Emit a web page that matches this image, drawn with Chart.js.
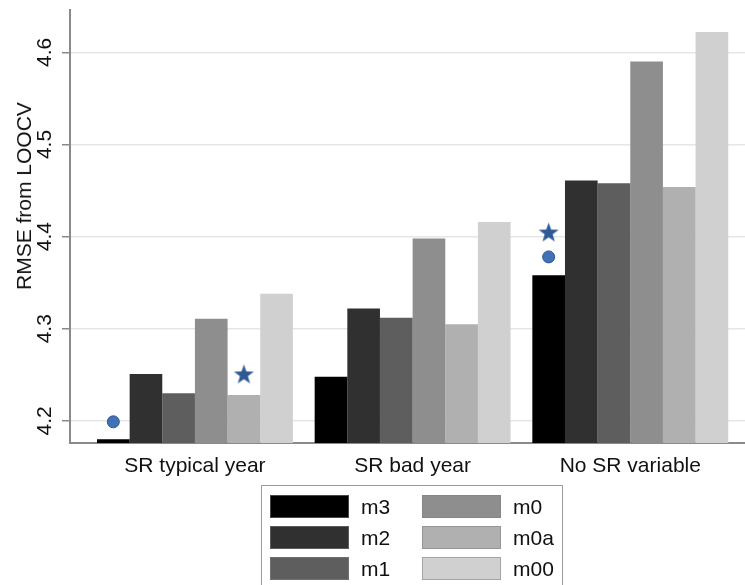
<!DOCTYPE html>
<html>
<head>
<meta charset="utf-8">
<script src="https://cdn.jsdelivr.net/npm/chart.js@4"></script>
<style>
  html, body { margin: 0; padding: 0; background: #ffffff; }
  #wrap { position: relative; width: 745px; height: 585px; overflow: hidden; font-family: "Liberation Sans", Arial, sans-serif; }
  #c { position: absolute; left: 0; top: 0; }
  #ytitle { position: absolute; left: 24px; top: 196px; transform: translate(-50%, -50%) rotate(-90deg); white-space: nowrap; font-size: 21px; color: #111; }
  #legend { position: absolute; left: 261px; top: 485px; width: 302px; height: 120px; border: 1px solid #9a9a9a; box-sizing: border-box; }
  .sw { position: absolute; width: 79px; height: 23px; box-sizing: border-box; border: 1px solid rgba(130,130,130,0.55); }
  .lt { position: absolute; font-size: 21px; line-height: 23px; color: #111; }
</style>
</head>
<body>
<div id="wrap">
  <canvas id="c" width="745" height="585"></canvas>
  <div id="ytitle">RMSE from LOOCV</div>
  <div id="legend"></div>
</div>
<script>
// ---- data ----
const categories = ["SR typical year", "SR bad year", "No SR variable"];
const seriesNames = ["m3", "m2", "m1", "m0", "m0a", "m00"];
const seriesColors = ["#000000", "#303030", "#5e5e5e", "#8e8e8e", "#b0b0b0", "#d0d0d0"];
const m3  = [4.180, 4.248, 4.358];
const m2  = [4.251, 4.322, 4.461];
const m1  = [4.230, 4.312, 4.458];
const m0  = [4.311, 4.398, 4.590];
const m0a = [4.228, 4.305, 4.454];
const m00 = [4.338, 4.416, 4.622];
const circleValues = [4.199, null, 4.378];
const circleSeries = ["m3", null, "m3"];
const starValues = [4.251, null, 4.405];
const starSeries = ["m0a", null, "m3"];
const yTickValues = [4.2, 4.3, 4.4, 4.5, 4.6];
const yTickLabels = ["4.2", "4.3", "4.4", "4.5", "4.6"];
const yTitle = "RMSE from LOOCV";

const seriesValues = [m3, m2, m1, m0, m0a, m00];
const CAT_PCT = 0.9;

// marker x: centre of the bar of the named series within the category
function barCenter(catIdx, name) {
  const n = seriesNames.length;
  const s = seriesNames.indexOf(name);
  return catIdx - CAT_PCT / 2 + (s + 0.5) * CAT_PCT / n;
}
function markerData(values, series) {
  const out = [];
  values.forEach((v, i) => { if (v !== null) out.push({ x: barCenter(i, series[i]), y: v }); });
  return out;
}

// filled five-point star as point style
function makeStar(R, color) {
  const size = Math.ceil(2 * R + 2);
  const cv = document.createElement("canvas");
  cv.width = size; cv.height = size;
  const ctx = cv.getContext("2d");
  const cx = size / 2, cy = size / 2 + 0.095 * R;
  const r = R * 0.4;
  ctx.beginPath();
  for (let k = 0; k < 10; k++) {
    const rad = (k % 2 === 0) ? R : r;
    const a = -Math.PI / 2 + k * Math.PI / 5;
    const px = cx + rad * Math.cos(a), py = cy + rad * Math.sin(a);
    if (k === 0) ctx.moveTo(px, py); else ctx.lineTo(px, py);
  }
  ctx.closePath();
  ctx.fillStyle = color;
  ctx.fill();
  return cv;
}

const datasets = [];
datasets.push({
  type: "scatter", label: "circle", data: markerData(circleValues, circleSeries),
  pointStyle: "circle", pointRadius: 6, backgroundColor: "#4172b6", borderColor: "#2c5592", borderWidth: 1, order: 0
});
datasets.push({
  type: "scatter", label: "star", data: markerData(starValues, starSeries),
  pointStyle: makeStar(10.5, "#2f5a94"), pointRadius: 10, order: 0
});
seriesNames.forEach((name, s) => {
  datasets.push({
    type: "bar", label: name,
    data: seriesValues[s].map((v, i) => ({ x: i, y: v })),
    backgroundColor: seriesColors[s], borderWidth: 0,
    categoryPercentage: CAT_PCT, barPercentage: 1.0, order: 1
  });
});

const FONT = { family: "'Liberation Sans', Arial, sans-serif", size: 21 };

new Chart(document.getElementById("c"), {
  type: "bar",
  data: { datasets },
  options: {
    responsive: false, animation: false, events: [],
    layout: { autoPadding: false, padding: { top: 10, right: 0, left: 0, bottom: 102 } },
    plugins: { legend: { display: false }, tooltip: { enabled: false }, title: { display: false } },
    scales: {
      x: {
        type: "linear", min: -0.574, max: 2.527, offset: false,
        grid: { display: false, offset: false },
        border: { display: true, color: "#8a8a8a", width: 2 },
        ticks: { color: "#111", font: FONT, padding: 3, maxRotation: 0, minRotation: 0, autoSkip: false,
                 callback: (v) => categories[v] },
        afterBuildTicks: (sc) => { sc.ticks = categories.map((_, i) => ({ value: i })); },
        afterFit: (sc) => { sc.height = 40; sc.paddingLeft = 0; sc.paddingRight = 0; }
      },
      y: {
        type: "linear", min: 4.176, max: 4.646,
        grid: { color: "#e6e6e6", lineWidth: 1.5, tickColor: "#8a8a8a", tickLength: 8, tickWidth: 1.5 },
        border: { display: true, color: "#8a8a8a", width: 2 },
        ticks: { color: "#111", font: FONT, padding: 2.5, minRotation: 90, maxRotation: 90, crossAlign: "center",
                 callback: (v) => yTickLabels[yTickValues.findIndex(t => Math.abs(t - v) < 1e-9)] },
        afterBuildTicks: (sc) => { sc.ticks = yTickValues.map(v => ({ value: v })); },
        afterFit: (sc) => { sc.width = 70; sc.paddingTop = 0; sc.paddingBottom = 0; }
      }
    }
  }
});

document.getElementById("ytitle").textContent = yTitle;

// legend: 3 rows, filled column by column
const leg = document.getElementById("legend");
seriesNames.forEach((name, i) => {
  const col = Math.floor(i / 3), row = i % 3;
  const left = 8 + col * 152, top = 9 + row * 31;
  const sw = document.createElement("div");
  sw.className = "sw"; sw.style.left = left + "px"; sw.style.top = top + "px";
  sw.style.background = seriesColors[i];
  leg.appendChild(sw);
  const t = document.createElement("div");
  t.className = "lt"; t.style.left = (left + 91) + "px"; t.style.top = top + "px";
  t.textContent = name;
  leg.appendChild(t);
});
</script>
</body>
</html>
